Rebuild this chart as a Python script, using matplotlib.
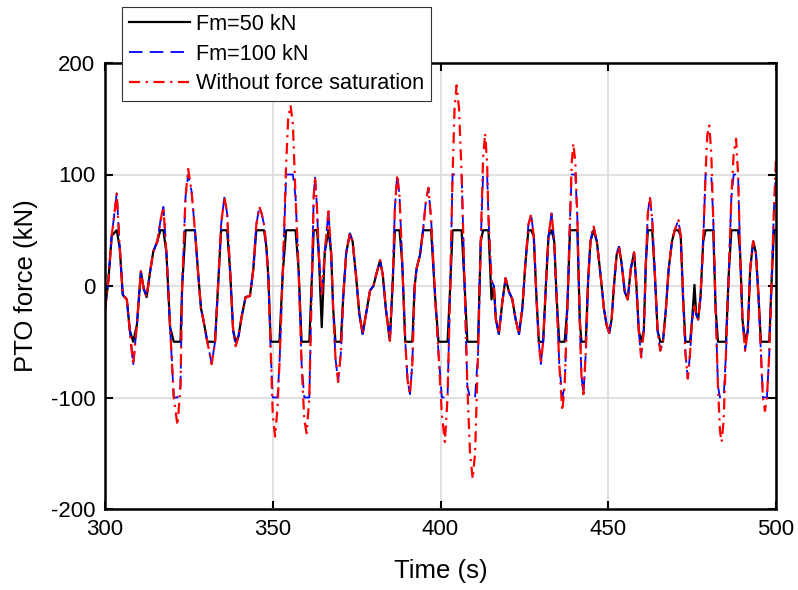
import numpy as np
import matplotlib
matplotlib.use("Agg")
import matplotlib.pyplot as plt

plt.rcParams['font.family'] = ['Liberation Sans', 'DejaVu Sans']
plt.rcParams['axes.unicode_minus'] = False

# PTO force without saturation (time s, force kN)
time_s = [
    300.0, 301.0, 302.0, 303.5, 304.4, 305.3, 306.5, 307.4, 308.4, 309.5,
    310.7, 311.5, 312.4, 313.4, 314.4, 315.6, 316.5, 317.4, 318.3, 319.4,
    320.5, 321.6, 322.5, 323.0, 324.0, 324.8, 325.8, 326.8, 327.8, 328.6,
    329.3, 330.5, 331.8, 332.8, 333.7, 334.6, 335.6, 336.4, 337.3, 338.2,
    338.95, 339.8, 340.7, 341.9, 343.2, 344.2, 345.1, 346.0, 346.7, 347.4,
    348.1, 348.7, 349.4, 350.0, 350.7, 351.4, 352.0, 353.0, 354.0, 354.6,
    355.3, 356.0, 356.8, 357.7, 358.6, 359.4, 360.1, 360.9, 361.7, 362.2,
    362.6, 363.2, 363.7, 364.6, 365.5, 366.6, 367.4, 368.0, 368.7, 369.5,
    370.3, 371.0, 371.9, 373.0, 373.8, 374.8, 375.8, 376.8, 377.8, 379.0,
    380.0, 381.0, 382.0, 382.8, 383.7, 384.9, 385.7, 386.4, 387.1, 387.8,
    388.6, 389.5, 390.2, 390.9, 391.6, 392.3, 392.9, 393.9, 394.8, 395.6,
    396.4, 397.2, 398.4, 399.4, 400.4, 401.3, 402.1, 402.9, 403.6, 404.2,
    404.8, 405.5, 406.3, 407.2, 408.0, 408.8, 409.6, 410.3, 411.2, 412.0,
    412.7, 413.3, 413.9, 414.3, 415.2, 415.9, 416.5, 417.4, 418.4, 419.4,
    420.4, 421.4, 422.4, 423.4, 424.4, 425.3, 426.2, 427.0, 427.8, 428.6,
    429.3, 429.9, 430.6, 431.4, 432.2, 433.1, 433.9, 434.6, 435.4, 436.3,
    437.0, 437.8, 438.6, 439.1, 439.6, 440.2, 440.8, 441.5, 442.0, 442.6,
    443.3, 444.0, 444.7, 445.6, 446.6, 447.7, 448.7, 449.5, 450.3, 451.0,
    451.7, 452.5, 453.2, 454.0, 454.9, 455.8, 456.7, 457.7, 458.4, 459.1,
    459.8, 460.6, 461.2, 461.8, 462.4, 463.1, 463.9, 464.7, 465.5, 466.3,
    467.2, 468.0, 469.0, 469.8, 470.9, 471.6, 472.3, 473.0, 473.7, 474.4,
    475.0, 475.7, 476.2, 476.8, 477.5, 478.3, 479.0, 479.5, 480.1, 480.7,
    481.3, 482.0, 482.7, 483.3, 483.8, 484.4, 485.1, 485.9, 486.7, 487.4,
    488.1, 488.7, 489.3, 490.0, 490.8, 491.6, 492.3, 493.2, 494.0, 494.8,
    495.5, 496.1, 496.7, 497.3, 498.0, 498.7, 499.4, 500.0,
]
force_free = [
    -21, 5, 45, 83, 34, -8, -12, -40, -71, -35,
    13, -2, -10, 12, 31, 40, 58, 71, 30, -37,
    -100, -125, -90, 0, 80, 105, 85, 50, 10, -20,
    -30, -50, -70, -50, 0, 55, 80, 65, 13, -40,
    -54, -45, -28, -10, -9, 15, 55, 71, 65, 55,
    35, 7, -60, -115, -135, -110, -70, 13, 110, 150,
    162, 145, 80, 15, -70, -120, -132, -100, 10, 80,
    98, 70, 30, -10, 30, 67, 30, -20, -65, -86,
    -60, -10, 30, 47, 40, 10, -25, -43, -25, -4,
    0, 12, 23, 10, -20, -49, 0, 70, 100, 80,
    20, -50, -85, -97, -70, 0, 16, 28, 50, 75,
    88, 60, -10, -60, -115, -140, -100, 0, 100, 160,
    180, 160, 100, 0, -90, -150, -173, -150, -60, 40,
    115, 137, 110, 61, 5, 0, -30, -43, -15, 7,
    -5, -12, -30, -43, -20, 20, 55, 64, 45, -10,
    -50, -70, -50, 0, 45, 65, 40, -10, -70, -112,
    -90, -20, 60, 110, 128, 110, 60, -30, -80, -97,
    -60, 5, 40, 54, 40, 10, -20, -35, -42, -30,
    0, 28, 35, 20, -5, -12, 15, 30, 0, -40,
    -64, -40, 20, 65, 80, 60, 10, -40, -58, -50,
    -20, 15, 40, 50, 59, 45, -10, -60, -83, -60,
    -30, -18, -25, -30, -10, 40, 100, 135, 144, 120,
    60, -20, -90, -130, -140, -120, -60, 10, 80, 120,
    132, 100, 30, -30, -58, -40, 15, 40, 30, -10,
    -60, -100, -112, -100, -60, 5, 70, 115,
]

# spots where the 50 kN case departs from a plain clip (time s -> kN)
fm50_dev = {364.6: -37, 415.2: -12, 475.7: 1}

t = np.array(time_s)
free = np.array(force_free, dtype=float)
fm100 = np.clip(free, -100, 100)
fm50 = np.clip(free, -50, 50)
for tk, val in fm50_dev.items():
    fm50[np.argmin(np.abs(t - tk))] = val

fig = plt.figure(figsize=(7.98, 5.9), dpi=100)
ax = fig.add_axes([105 / 798, 1 - 509 / 590, 671 / 798, 446 / 590])

ax.plot(t, fm50, color='black', lw=1.6, label='Fm=50 kN')
ax.plot(t, fm100, color='blue', lw=1.3, ls=(0, (7.5, 4)), label='Fm=100 kN')
ax.plot(t, free, color='red', lw=1.6, ls=(0, (5, 2.5, 1, 2.5)),
        label='Without force saturation')

ax.set_xlim(300, 500)
ax.set_ylim(-200, 200)
ax.set_xticks([300, 350, 400, 450, 500])
ax.set_yticks([-200, -100, 0, 100, 200])
ax.grid(True, color='#dcdcdc', lw=1.2)
ax.set_axisbelow(True)
ax.tick_params(direction='in', length=6, width=1.5, labelsize=16,
               top=True, right=True, pad=7)
for s in ax.spines.values():
    s.set_linewidth(1.8)
ax.set_xlabel('Time (s)', fontsize=18.5, labelpad=14)
ax.set_ylabel('PTO force (kN)', fontsize=18.5, labelpad=9)

leg = ax.legend(loc='upper left', bbox_to_anchor=(122 / 798, 1 - 7 / 590),
                bbox_transform=fig.transFigure, fontsize=15.6,
                handlelength=2.8, handletextpad=0.3, borderpad=0.32,
                labelspacing=0.4, fancybox=False, framealpha=1,
                edgecolor='#333333', borderaxespad=0)
leg.get_frame().set_linewidth(0.8)
leg.set_zorder(5)

fig.savefig('out.png', dpi=100)
